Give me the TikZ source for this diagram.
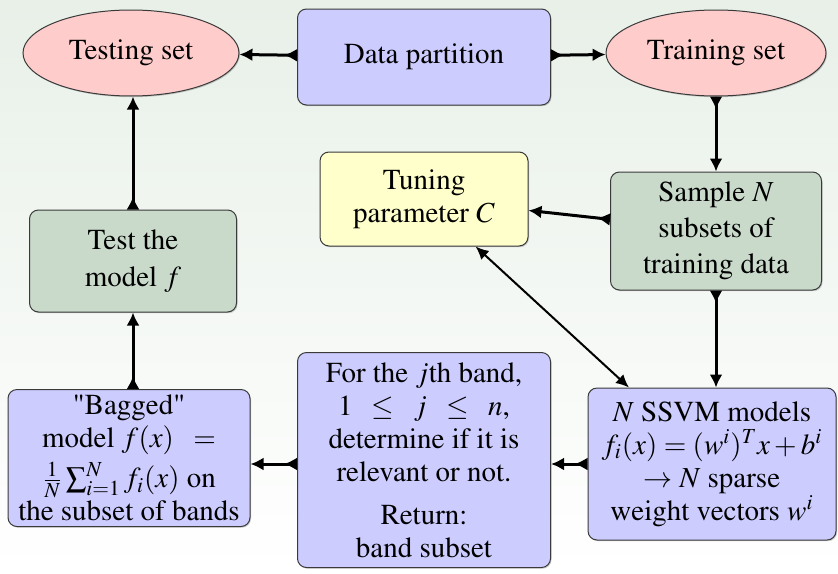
\documentclass[tikz,border=0pt]{standalone}
\usepackage[T1]{fontenc}
\usepackage{mathptmx}
\usepackage{tikz}
\usetikzlibrary{arrows.meta,shapes.geometric,shadows}
\definecolor{boxline}{HTML}{3A3A3A}
\definecolor{bandblue}{HTML}{CCCCFF}
\definecolor{setpink}{HTML}{FFCCCC}
\definecolor{stepgreen}{HTML}{C9DACB}
\definecolor{tuneyellow}{HTML}{FFFFCC}
\definecolor{bgtop}{HTML}{E8F0E8}
\tikzset{
  flowbox/.style={rectangle,rounded corners=4.5pt,draw=boxline,line width=0.5pt,
    align=center,font=\fontsize{14.5}{16.5}\selectfont,inner sep=2pt,
    drop shadow={shadow xshift=0.5pt,shadow yshift=-0.6pt,opacity=0.4}},
  setell/.style={ellipse,draw=boxline,line width=0.5pt,fill=setpink,
    font=\fontsize{14.5}{16.5}\selectfont,inner sep=1pt,
    minimum width=108pt,minimum height=43pt,
    drop shadow={shadow xshift=0.5pt,shadow yshift=-0.6pt,opacity=0.4}},
  flowarr/.style={{Latex[reversed,length=6.5pt,width=6.5pt]}-{Latex[length=6.5pt,width=6.5pt]},
    line width=1.5pt},
  linkarr/.style={{Latex[length=6.5pt,width=6pt]}-{Latex[length=6.5pt,width=6pt]},
    line width=1pt},
}
\begin{document}
\begin{tikzpicture}[x=0.5pt,y=-0.5pt]
  \shade[top color=bgtop,bottom color=white] (0,0) rectangle (838,573);
  \useasboundingbox (0,0) rectangle (838,573);
  % top row
  \node[setell] (testset) at (131,53) {Testing set};
  \node[flowbox,fill=bandblue,minimum width=126.5pt,minimum height=48pt] (part) at (424,57) {Data partition};
  \node[setell,minimum width=110pt] (trainset) at (716,53) {Training set};
  % middle
  \node[flowbox,fill=tuneyellow,minimum width=104pt,minimum height=47pt] (tune) at (424,199) {Tuning\\parameter $C$};
  \node[flowbox,fill=stepgreen,minimum width=105.5pt,minimum height=59pt] (sample) at (716,231)
    {Sample $N$\\[1.5pt]subsets of\\[1.5pt]training data};
  \node[flowbox,fill=stepgreen,minimum width=103.5pt,minimum height=51pt] (testf) at (133,261)
    {Test the\\[2pt]model $f$};
  % bottom row
  \node[flowbox,fill=bandblue,minimum width=121pt,minimum height=68.5pt] (bagged) at (129,458)
    {\textquotedbl Bagged\textquotedbl\\model $f(x)\;\;=$\\[2.5pt]$\frac{1}{N}\sum_{i=1}^{N} f_i(x)$ on\\the subset of bands};
  \node[flowbox,fill=bandblue,minimum width=126.5pt,minimum height=107.5pt] (band) at (424,460)
    {For the $j$th band,\\$1\;\;\leq\;\;j\;\;\leq\;\;n$,\\determine if it is\\relevant or not.\\[5pt]Return:\\band subset};
  \node[flowbox,fill=bandblue,minimum width=124pt,minimum height=76pt] (ssvm) at (712,464)
    {$N$ SSVM models\\$f_i(x)=(w^i)^Tx+b^i$\\$\rightarrow N$ sparse\\weight vectors $w^i$};
  % connectors
  \draw[flowarr] (part) -- (testset);
  \draw[flowarr] (part) -- (trainset);
  \draw[flowarr] (trainset) -- (sample);
  \draw[flowarr] (sample) -- (tune);
  \draw[linkarr] (tune) -- (ssvm);
  \draw[flowarr] (sample.south) -- (sample.south |- ssvm.north);
  \draw[flowarr] (ssvm.west) -- (ssvm.west -| band.east);
  \draw[flowarr] (band.west |- ssvm.west) -- (ssvm.west -| bagged.east);
  \draw[flowarr] (bagged.north -| testf.south) -- (testf.south);
  \draw[flowarr] (testf.north) -- (testf.north |- testset.south);
\end{tikzpicture}
\end{document}
